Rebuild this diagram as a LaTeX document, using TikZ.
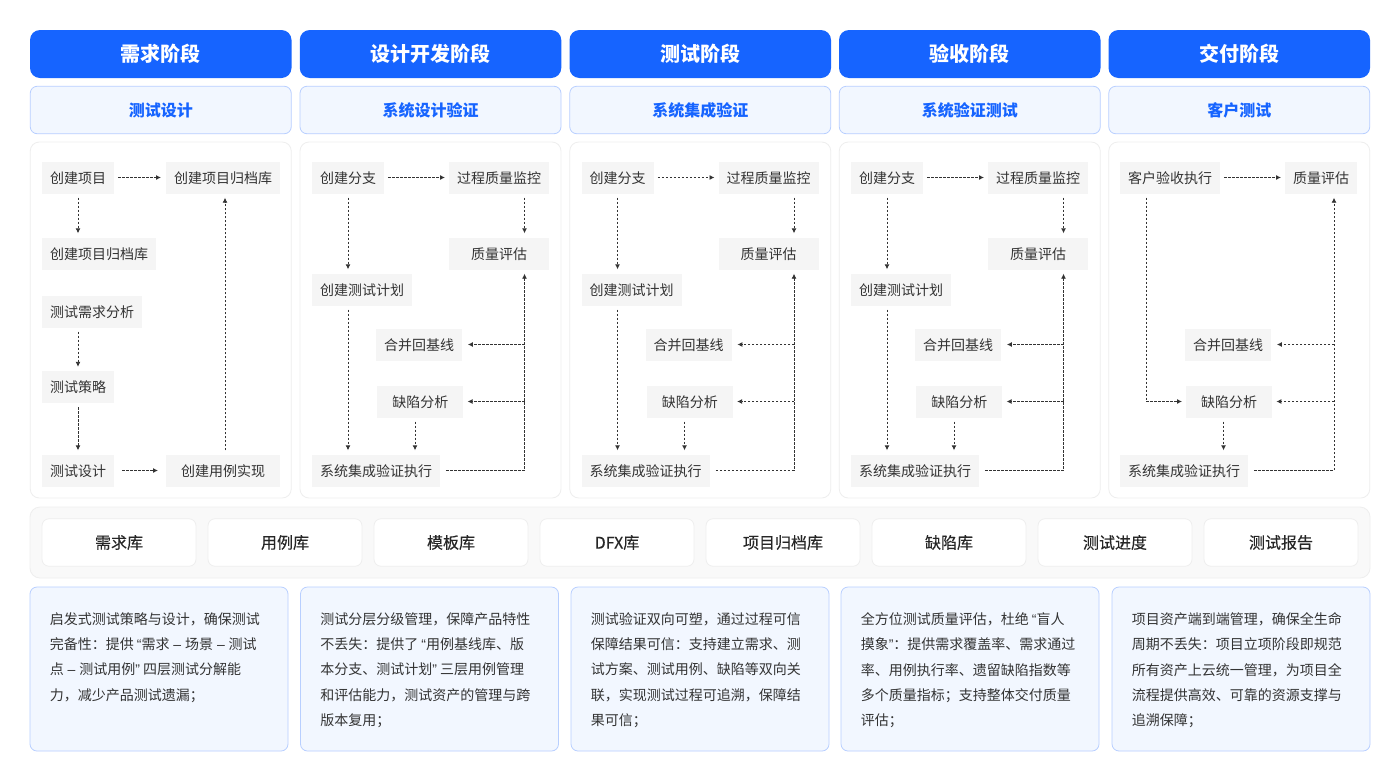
\documentclass[tikz,border=0pt]{standalone}
\usepackage{fontspec}
\setmainfont{Noto Sans CJK SC}
\newfontfamily\medfont[FakeBold=0.25]{Noto Sans CJK SC}
\newfontfamily\qfont{Liberation Sans}
\newcommand{\qopen}{{\qfont “}}
\newcommand{\qclose}{{\qfont ”}}
\newcommand{\dsh}{{\qfont\ –\ }}
\usetikzlibrary{arrows.meta,calc}
\definecolor{brand}{HTML}{1664FF}
\definecolor{subfill}{HTML}{F2F7FF}
\definecolor{subline}{HTML}{B8CFFF}
\definecolor{softline}{HTML}{EEEEEE}
\definecolor{boxfill}{HTML}{F5F5F5}
\definecolor{bandfill}{HTML}{F9F9F9}
\definecolor{ink}{HTML}{333333}
\tikzset{
  x=1pt,y=-1pt,
  head/.style={rectangle,rounded corners=10pt,fill=brand,text=white,minimum width=261.5pt,minimum height=48pt,inner sep=0pt,font=\fontsize{20}{24}\selectfont\bfseries},
  sub/.style={rectangle,rounded corners=7pt,draw=subline,fill=subfill,text=brand,minimum width=261pt,minimum height=47.5pt,inner sep=0pt,line width=.8pt,font=\fontsize{16}{20}\selectfont\bfseries},
  panel/.style={rectangle,rounded corners=9pt,draw=softline,fill=white,minimum width=261pt,minimum height=356pt,inner sep=0pt,line width=.8pt},
  stepbox/.style={rectangle,fill=boxfill,text=ink,anchor=west,minimum height=32pt,inner xsep=8pt,inner ysep=0pt,text height=13pt,text depth=2pt,font=\fontsize{14}{18}\selectfont},
  conn/.style={draw=ink,line width=.9pt,dash pattern=on 2.5pt off 1.5pt,-{Latex[length=5pt,width=5pt]},shorten <=4pt,shorten >=4pt},
  branch/.style={conn,shorten <=0pt},
  trunk/.style={conn,shorten <=6pt},
  band/.style={rectangle,rounded corners=10pt,draw=softline,fill=bandfill,minimum width=1340pt,minimum height=71pt,inner sep=0pt,line width=.8pt},
  lib/.style={rectangle,rounded corners=7pt,draw=softline,fill=white,text=black!85,minimum width=154pt,minimum height=47.5pt,inner sep=0pt,line width=.8pt,font=\fontsize{16}{20}\selectfont\medfont},
  descbox/.style={rectangle,rounded corners=7pt,draw=subline,fill=subfill,minimum width=258pt,minimum height=164pt,inner sep=0pt,line width=.8pt},
  desctext/.style={anchor=north west,inner sep=0pt,align=left,text=ink,font=\fontsize{14}{25.4}\selectfont},
}
\newcommand{\stage}[4]{% prefix, centre x, head, sub
  \node[head] (#1h) at (#2,54) {#3};
  \node[sub] (#1s) at (#2,110) {#4};
  \node[panel] (#1p) at (#2,320) {};
}
% the three panels that share one layout
\newcommand{\midpanel}[2]{%
  \begin{scope}[xshift=#2pt]
    \node[stepbox] (#1a) at (312,177.5) {创建分支};
    \node[stepbox] (#1b) at (449,177.5) {过程质量监控};
    \node[stepbox,minimum width=100pt] (#1c) at (449,253.5) {质量评估};
    \node[stepbox] (#1d) at (312,289.5) {创建测试计划};
    \node[stepbox] (#1e) at (376,344.5) {合并回基线};
    \node[stepbox,minimum width=86pt] (#1f) at (377.25,401.5) {缺陷分析};
    \node[stepbox] (#1g) at (312,470.5) {系统集成验证执行};
    \coordinate (#1t1) at (524.5,344.5);
    \coordinate (#1t2) at (524.5,401.5);
    \draw[conn] (#1a) -- (#1b);
    \draw[conn] (524.5,0 |- #1b.south) -- (524.5,0 |- #1c.north);
    \draw[conn] (348,0 |- #1a.south) -- (348,0 |- #1d.north);
    \draw[conn] (348,0 |- #1d.south) -- (348,0 |- #1g.north);
    \draw[conn] (415,0 |- #1f.south) -- (415,0 |- #1g.north);
    \draw[trunk] (#1g.east) -| (524.5,0 |- #1c.south);
    \draw[branch,shorten >=5.5pt] (#1t1) -- (#1e.east);
    \draw[branch] (#1t2) -- (#1f.east);
  \end{scope}
}
\begin{document}
\begin{tikzpicture}
\useasboundingbox (0,0) rectangle (1400,782);
\fill[white] (0,0) rectangle (1400,782);
\stage{c1}{160.75}{需求阶段}{测试设计}
\stage{c2}{430.5}{设计开发阶段}{系统设计验证}
\stage{c3}{700.25}{测试阶段}{系统集成验证}
\stage{c4}{969.75}{验收阶段}{系统验证测试}
\stage{c5}{1239.25}{交付阶段}{客户测试}

% panel 1
\node[stepbox] (pa) at (42,177.5) {创建项目};
\node[stepbox] (pb) at (166,177.5) {创建项目归档库};
\node[stepbox] (pc) at (42,253.5) {创建项目归档库};
\node[stepbox] (pd) at (42,311.5) {测试需求分析};
\node[stepbox] (pe) at (42,387) {测试策略};
\node[stepbox] (pf) at (42,470.5) {测试设计};
\node[stepbox,minimum width=114pt] (pg) at (166,470.5) {创建用例实现};
\draw[conn,shorten >=5pt] (pa) -- (pb);
\draw[conn] (78,0 |- pa.south) -- (78,0 |- pc.north);
\draw[conn] (78,0 |- pd.south) -- (78,0 |- pe.north);
\draw[conn] (78,0 |- pe.south) -- (78,0 |- pf.north);
\draw[conn,shorten <=8pt,shorten >=8pt] (pf) -- (pg);
\draw[conn] (225,0 |- pg.north) -- (225,0 |- pb.south);

% panels 2-4
\midpanel{q}{0}
\midpanel{r}{269.5}
\midpanel{s}{539}

% panel 5
\node[stepbox] (ua) at (1120,177.5) {客户验收执行};
\node[stepbox] (ub) at (1285,177.5) {质量评估};
\node[stepbox] (ue) at (1185,344.5) {合并回基线};
\node[stepbox,minimum width=86pt] (uf) at (1186,401.5) {缺陷分析};
\node[stepbox] (ug) at (1120,470.5) {系统集成验证执行};
\coordinate (ut1) at (1334,344.5);
\coordinate (ut2) at (1334,401.5);
\draw[conn] (ua) -- (ub);
\draw[conn] (1146,0 |- ua.south) |- (uf.west);
\draw[conn] (1223.5,0 |- uf.south) -- (1223.5,0 |- ug.north);
\draw[trunk] (ug.east) -| (1334,0 |- ub.south);
\draw[branch,shorten >=5.5pt] (ut1) -- (ue.east);
\draw[branch] (ut2) -- (uf.east);

% library band
\node[band] (bandbox) at (700,542.5) {};
\node[lib] (l1) at (119,542.5) {需求库};
\node[lib] (l2) at (285,542.5) {用例库};
\node[lib] (l3) at (451,542.5) {模板库};
\node[lib] (l4) at (617,542.5) {DFX库};
\node[lib] (l5) at (783,542.5) {项目归档库};
\node[lib] (l6) at (949,542.5) {缺陷库};
\node[lib] (l7) at (1115,542.5) {测试进度};
\node[lib] (l8) at (1281,542.5) {测试报告};

% descriptions
\node[descbox] (d1) at (159,669) {};
\node[descbox] (d2) at (429.5,669) {};
\node[descbox] (d3) at (700,669) {};
\node[descbox] (d4) at (970,669) {};
\node[descbox] (d5) at (1241,669) {};
\node[desctext] (t1) at ([shift={(20,25.5)}]d1.north west) {启发式测试策略与设计，确保测试\\完备性：提供 \qopen 需求\dsh 场景\dsh 测试\\点\dsh 测试用例\qclose\ 四层测试分解能\\力，减少产品测试遗漏；};
\node[desctext] (t2) at ([shift={(20,25.5)}]d2.north west) {测试分层分级管理，保障产品特性\\不丢失：提供了 \qopen 用例基线库、版\\本分支、测试计划\qclose\ 三层用例管理\\和评估能力，测试资产的管理与跨\\版本复用；};
\node[desctext] (t3) at ([shift={(20,25.5)}]d3.north west) {测试验证双向可塑，通过过程可信\\保障结果可信：支持建立需求、测\\试方案、测试用例、缺陷等双向关\\联，实现测试过程可追溯，保障结\\果可信；};
\node[desctext] (t4) at ([shift={(20,25.5)}]d4.north west) {全方位测试质量评估，杜绝 \qopen 盲人\\摸象\qclose ：提供需求覆盖率、需求通过\\率、用例执行率、遗留缺陷指数等\\多个质量指标；支持整体交付质量\\评估；};
\node[desctext] (t5) at ([shift={(20,25.5)}]d5.north west) {项目资产端到端管理，确保全生命\\周期不丢失：项目立项阶段即规范\\所有资产上云统一管理，为项目全\\流程提供高效、可靠的资源支撑与\\追溯保障；};
\end{tikzpicture}
\end{document}
